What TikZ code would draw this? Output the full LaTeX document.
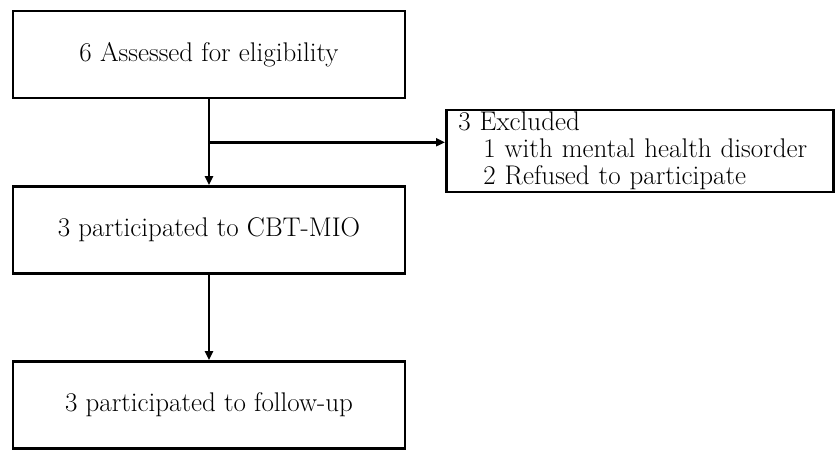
\documentclass[tikz,border=0pt]{standalone}
\usetikzlibrary{positioning,arrows.meta,calc}

\begin{document}
\begin{tikzpicture}[
  x=1pt, y=-1pt,
  box/.style={draw, line width=2.6pt, minimum width=392pt, minimum height=87pt,
              font=\fontsize{27}{28}\selectfont},
  flow/.style={line width=2.6pt, -{Triangle[length=9pt,width=8pt]}}
]
  \useasboundingbox (0,0) rectangle (835,450);

  % Boxes
  \node[box] (assess) at (209, 54.5) {6 Assessed for eligibility};
  \node[box] (cbt) at (209, 230) {3 participated to CBT-MIO};
  \node[box] (follow) at (209, 405) {3 participated to follow-up};
  \node[box, minimum width=387pt, minimum height=82pt, anchor=west,
        text width=363pt, align=left, inner xsep=12pt, inner ysep=1pt,
        font=\fontsize{27}{27}\selectfont] (excl) at (445, 151)
    {3 Excluded\\
     \hspace*{25pt}1 with mental health disorder\\
     \hspace*{25pt}2 Refused to participate\\[-8pt]};

  % Arrows
  \coordinate (split) at ($(assess.south)!0.5!(cbt.north)$);
  \draw[flow] (assess) -- (cbt);
  \draw[flow] (split) -- (split -| excl.west);
  \draw[flow] (cbt) -- (follow);
\end{tikzpicture}
\end{document}
